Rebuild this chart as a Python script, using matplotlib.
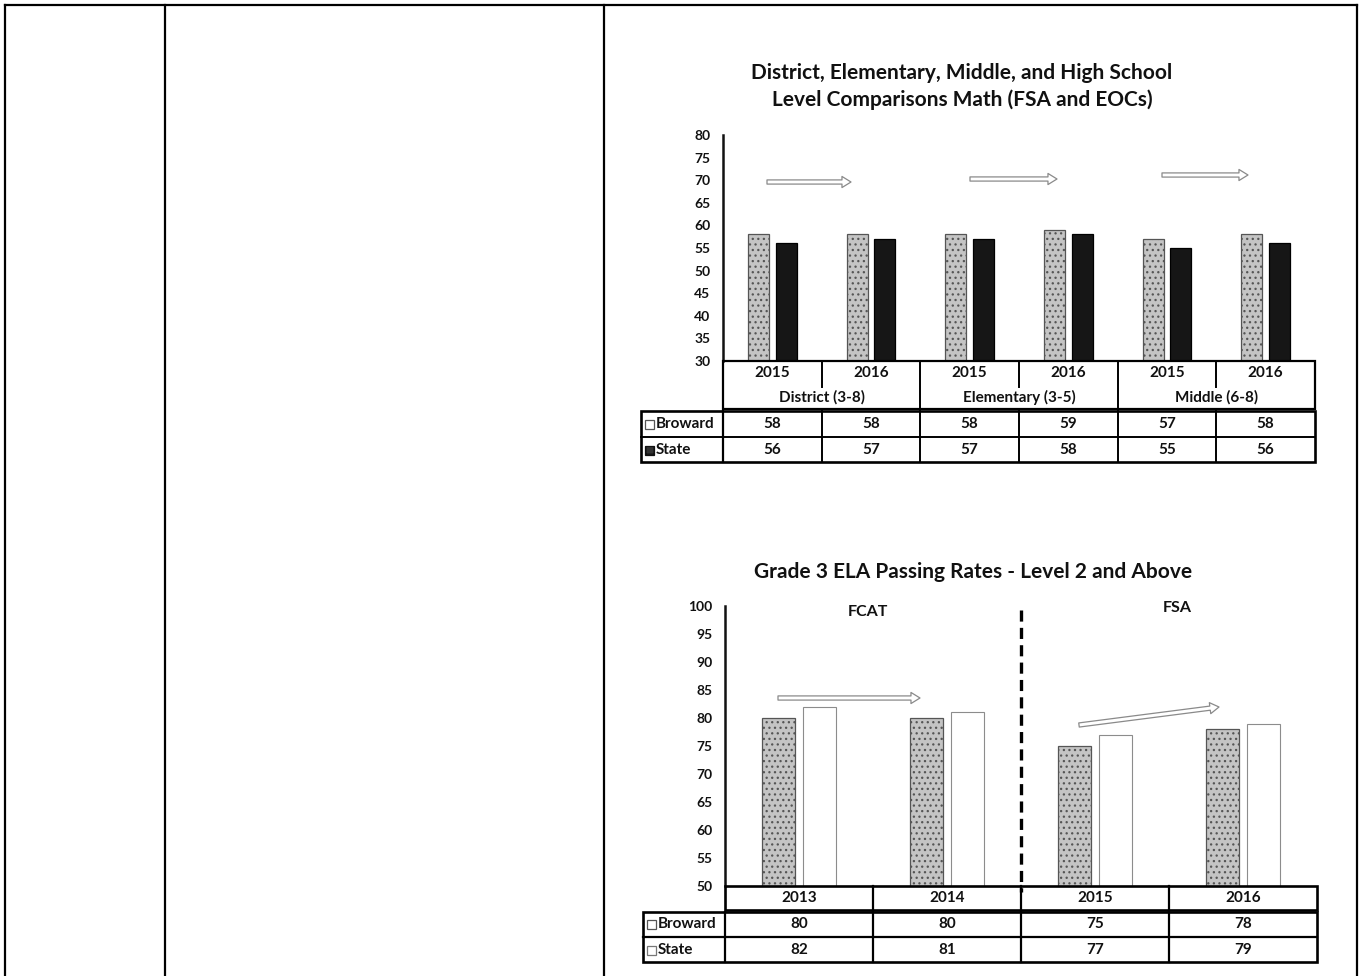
import matplotlib
matplotlib.use("Agg")
import matplotlib.pyplot as plt
from matplotlib.patches import FancyArrowPatch, Rectangle
import numpy as np

plt.rcParams['font.family'] = ['Lato', 'DejaVu Sans']
plt.rcParams['lines.scale_dashes'] = False
plt.rcParams['hatch.linewidth'] = 0.9

W, H = 1362, 976

# Math comparison chart
math_title = "District, Elementary, Middle, and High School\nLevel Comparisons Math (FSA and EOCs)"
math_groups = ["District (3-8)", "Elementary (3-5)", "Middle (6-8)"]
math_years = ["2015", "2016", "2015", "2016", "2015", "2016"]
math_broward = [58, 58, 58, 59, 57, 58]
math_state = [56, 57, 57, 58, 55, 56]

# Grade 3 ELA chart
ela_title = "Grade 3 ELA Passing Rates - Level 2 and Above"
ela_years = ["2013", "2014", "2015", "2016"]
ela_broward = [80, 80, 75, 78]
ela_state = [82, 81, 77, 79]
ela_periods = ["FCAT", "FSA"]

series_names = ["Broward", "State"]

BROWARD_FACE = '#c4c4c4'
BROWARD_EDGE = '#555555'
FONT_KW = dict(fontweight='bold', color='#111111')
TABLE_FS = 11

fig = plt.figure(figsize=(W / 100, H / 100), dpi=100)
fig.patch.set_facecolor('white')


def px_axes(x0, y0, x1, y1, **kw):
    return fig.add_axes([x0 / W, 1 - y1 / H, (x1 - x0) / W, (y1 - y0) / H], **kw)


# page layer in pixel coordinates for the surrounding form, tables and notes
page = px_axes(0, 0, W, H)
page.set_xlim(0, W)
page.set_ylim(H, 0)
page.axis('off')
page.set_zorder(10)
page.patch.set_visible(False)

# form border lines
page.plot([5, 1357], [5, 5], color='black', lw=1.6)
for xv in [5, 165, 604, 1357]:
    page.plot([xv, xv], [5, H], color='black', lw=1.6)


def style_value_axis(ax, lo, hi, pad):
    ax.set_ylim(lo, hi)
    ax.set_yticks(range(lo, hi + 1, 5))
    ax.set_xticks([])
    for s in ['top', 'right', 'bottom']:
        ax.spines[s].set_visible(False)
    ax.spines['left'].set_linewidth(1.8)
    ax.spines['left'].set_color('#111111')
    ax.tick_params(axis='y', length=0, pad=pad, labelsize=10)
    for lab in ax.get_yticklabels():
        lab.set_fontweight('bold')
        lab.set_color('#111111')


def hollow_arrow(p0, p1, color='#8a8a8a'):
    arr = FancyArrowPatch(p0, p1, arrowstyle="simple,head_length=6.5,head_width=8,tail_width=3",
                          mutation_scale=1, facecolor='white', edgecolor=color, lw=0.9,
                          shrinkA=0, shrinkB=0, zorder=5)
    page.add_patch(arr)


def legend_square(x, y, face, edge, hatch=None):
    page.add_patch(Rectangle((x, y - 4.5), 9, 9, facecolor=face, edgecolor=edge,
                             lw=0.9, hatch=hatch))


# ---------------- Math chart ----------------
m_left, m_right, m_top, m_bottom = 723, 1315, 135, 361
ax1 = px_axes(m_left, m_top, m_right, m_bottom)
xm = np.arange(len(math_years))
bw, off = 0.215, 0.14
ax1.bar(xm - off, math_broward, bw, color=BROWARD_FACE, edgecolor=BROWARD_EDGE,
        hatch='...', lw=0.9)
ax1.bar(xm + off, math_state, bw, color='#161616', edgecolor='#000000', lw=0.9)
ax1.set_xlim(-0.5, len(math_years) - 0.5)
style_value_axis(ax1, 30, 80, 9)

page.text(962, 73, math_title.split("\n")[0], ha='center', va='center', fontsize=15, **FONT_KW)
page.text(962, 100, math_title.split("\n")[1], ha='center', va='center', fontsize=15, **FONT_KW)

hollow_arrow((767, 182), (851, 182))
hollow_arrow((970, 179), (1057, 179))
hollow_arrow((1162, 175), (1248, 175))

# math table
cx = np.linspace(m_left, m_right, len(math_years) + 1)
page.add_patch(Rectangle((m_left, 361), m_right - m_left, 48, fill=False, ec='black', lw=1.6))
for i in range(1, len(math_years)):
    yend = 387 if i % 2 else 409
    page.plot([cx[i], cx[i]], [361, yend], color='black', lw=1.4)
for i, yr in enumerate(math_years):
    page.text((cx[i] + cx[i + 1]) / 2, 373, yr, ha='center', va='center', fontsize=TABLE_FS, **FONT_KW)
for g, name in enumerate(math_groups):
    page.text((cx[2 * g] + cx[2 * g + 2]) / 2, 397, name, ha='center', va='center',
              fontsize=TABLE_FS, **FONT_KW)

t_left = 641
page.add_patch(Rectangle((t_left, 411), m_right - t_left, 51, fill=False, ec='black', lw=1.9))
page.plot([t_left, m_right], [436.5, 436.5], color='black', lw=1.4)
page.plot([m_left, m_left], [411, 462], color='black', lw=1.6)
for i in range(1, len(math_years)):
    page.plot([cx[i], cx[i]], [411, 462], color='black', lw=1.4)
for vals, y in [(math_broward, 424), (math_state, 450)]:
    for i, v in enumerate(vals):
        page.text((cx[i] + cx[i + 1]) / 2, y, str(v), ha='center', va='center',
                  fontsize=TABLE_FS, **FONT_KW)
legend_square(645, 424, 'white', '#555555')
legend_square(645, 450, '#333333', '#111111', hatch='++')
page.text(656, 424, series_names[0], ha='left', va='center', fontsize=TABLE_FS, **FONT_KW)
page.text(656, 450, series_names[1], ha='left', va='center', fontsize=TABLE_FS, **FONT_KW)

# ---------------- ELA chart ----------------
e_left, e_right, e_top, e_bottom = 725, 1317, 606, 886
ax2 = px_axes(e_left, e_top, e_right, e_bottom)
xe = np.arange(len(ela_years))
bw2, off2 = 0.22, 0.14
ax2.bar(xe - off2, ela_broward, bw2, color=BROWARD_FACE, edgecolor=BROWARD_EDGE,
        hatch='...', lw=0.9)
ax2.bar(xe + off2, ela_state, bw2, color='white', edgecolor='#8c8c8c', lw=0.8)
ax2.set_xlim(-0.5, len(ela_years) - 0.5)
style_value_axis(ax2, 50, 100, 9)

page.text(973, 572, ela_title, ha='center', va='center', fontsize=15, **FONT_KW)
page.text(868, 612, ela_periods[0], ha='center', va='center', fontsize=11.5, **FONT_KW)
page.text(1177, 608, ela_periods[1], ha='center', va='center', fontsize=11.5, **FONT_KW)

# test change divider
page.plot([1021, 1021], [610, 892], color='black', lw=2.4, linestyle=(0, (8, 4.5)))

hollow_arrow((778, 698), (920, 698))
hollow_arrow((1079, 725), (1219, 707))

# ELA table
ex = np.linspace(e_left, e_right, len(ela_years) + 1)
page.add_patch(Rectangle((e_left, 886), e_right - e_left, 24, fill=False, ec='black', lw=1.9))
for i in range(1, len(ela_years)):
    page.plot([ex[i], ex[i]], [886, 910], color='black', lw=1.6)
for i, yr in enumerate(ela_years):
    page.text((ex[i] + ex[i + 1]) / 2, 898, yr, ha='center', va='center', fontsize=TABLE_FS, **FONT_KW)

et_left = 643
page.add_patch(Rectangle((et_left, 912), e_right - et_left, 50, fill=False, ec='black', lw=1.9))
page.plot([et_left, e_right], [937, 937], color='black', lw=1.6)
page.plot([e_left, e_left], [912, 962], color='black', lw=1.6)
for i in range(1, len(ela_years)):
    page.plot([ex[i], ex[i]], [912, 962], color='black', lw=1.6)
for vals, y in [(ela_broward, 924), (ela_state, 950)]:
    for i, v in enumerate(vals):
        page.text((ex[i] + ex[i + 1]) / 2, y, str(v), ha='center', va='center',
                  fontsize=TABLE_FS, **FONT_KW)
legend_square(647, 924, 'white', '#555555')
legend_square(647, 950, 'white', '#777777')
page.text(658, 924, series_names[0], ha='left', va='center', fontsize=TABLE_FS, **FONT_KW)
page.text(658, 950, series_names[1], ha='left', va='center', fontsize=TABLE_FS, **FONT_KW)

fig.savefig('out.png', dpi=100, facecolor='white')
